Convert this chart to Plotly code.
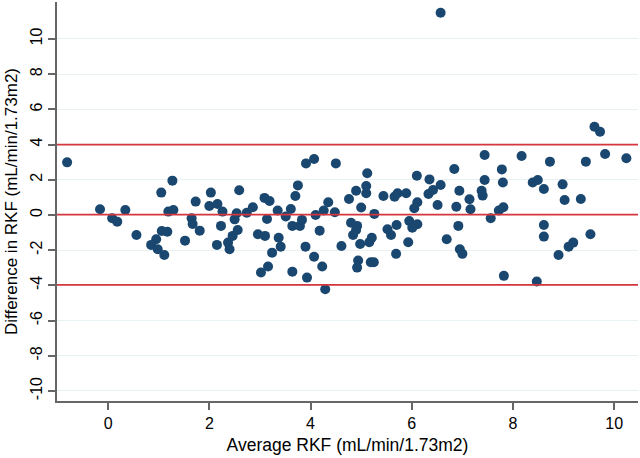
import plotly.graph_objects as go

# Bland-Altman data: average RKF (x) vs difference in RKF (y)
avg_rkf = [
    -0.81, -0.16, 0.08, 0.18, 0.34, 0.56, 0.85, 0.95, 0.98, 1.05,
    1.06, 1.11, 1.17, 1.19, 1.27, 1.29, 1.52, 1.65, 1.67, 1.73,
    1.81, 2.03, 2.00, 2.16, 2.15, 2.23, 2.26, 2.37, 2.40, 2.46,
    2.50, 2.54, 2.56, 2.59, 2.74, 2.86, 2.96, 3.02, 3.09, 3.10,
    3.14, 3.16, 3.19, 3.24, 3.35, 3.37, 3.41, 3.51, 3.61, 3.64,
    3.64, 3.70, 3.75, 3.79, 3.83, 3.90, 3.91, 3.93, 4.07, 4.07,
    4.10, 4.18, 4.23, 4.26, 4.29, 4.35, 4.48, 4.50, 4.61, 4.76,
    4.80, 4.84, 4.90, 4.90, 4.92, 4.94, 4.92, 4.98, 5.00, 5.10,
    5.10, 5.12, 5.16, 5.19, 5.21, 5.25, 5.26, 5.44, 5.52, 5.59,
    5.66, 5.69, 5.70, 5.72, 5.89, 5.93, 5.95, 6.01, 6.05, 6.10,
    6.11, 6.11, 6.33, 6.35, 6.42, 6.51, 6.57, 6.57, 6.69, 6.84,
    6.88, 6.92, 6.94, 6.95, 7.00, 7.14, 7.16, 7.38, 7.40, 7.44,
    7.44, 7.56, 7.72, 7.78, 7.80, 7.81, 7.82, 8.17, 8.39, 8.49,
    8.47, 8.61, 8.61, 8.61, 8.73, 8.90, 8.98, 9.02, 9.10, 9.19,
    9.34, 9.44, 9.53, 9.61, 9.72, 9.82, 10.24,
]
diff_rkf = [
    2.99, 0.32, -0.19, -0.38, 0.28, -1.14, -1.70, -1.38, -1.95, 1.27,
    -0.91, -2.27, -0.95, 0.19, 1.95, 0.28, -1.46, -0.19, -0.51, 0.76,
    -0.89, 1.27, 0.51, 0.62, -1.70, -0.62, 0.19, -1.57, -1.95, -1.19,
    -0.25, 0.10, -0.85, 1.40, 0.13, 0.44, -1.10, -3.27, 0.97, -1.19,
    -0.23, -2.93, 0.79, -2.14, 0.25, -1.29, -1.80, -0.09, 0.34, -3.22,
    -0.62, 1.08, 1.68, -0.62, -0.28, -1.80, 2.93, -3.56, 3.18, -2.37,
    0.00, -0.89, -2.93, 0.25, -4.22, 0.72, 0.15, 2.93, -1.76, 0.91,
    -0.44, -1.14, 1.38, -0.85, -0.62, -2.59, -2.99, -1.65, 0.42, 1.23,
    1.65, 2.37, -1.55, -2.69, -1.29, -2.69, 0.06, 1.08, -0.81, -1.14,
    1.04, -2.21, -0.57, 1.23, 1.23, -1.55, -0.34, -0.72, 0.38, 2.23,
    0.72, -0.53, 1.19, 2.02, 1.42, 0.57, 1.70, 11.49, -1.38, 2.61,
    0.47, -0.62, 1.38, -1.95, -2.21, 0.89, 0.32, 1.38, 1.10, 3.41,
    1.99, -0.19, 0.25, 2.59, 1.84, 0.44, -3.46, 3.35, 1.84, 1.99,
    -3.78, 1.48, -0.57, -1.23, 3.03, -2.27, 1.74, 0.85, -1.80, -1.57,
    0.91, 3.03, -1.10, 5.01, 4.73, 3.46, 3.22,
]

# Mean difference and limits of agreement
limit_values = [4.0, 0.02, -3.97]

x_ticks = [0, 2, 4, 6, 8, 10]
y_ticks = [-10, -8, -6, -4, -2, 0, 2, 4, 6, 8, 10]

FONT = "Liberation Sans, Arial, Helvetica, sans-serif"

fig = go.Figure()

fig.add_trace(go.Scatter(
    x=avg_rkf, y=diff_rkf, mode="markers",
    marker=dict(size=10, color="#1a476f", line=dict(width=0)),
    showlegend=False, hoverinfo="x+y",
))

for v in limit_values:
    fig.add_shape(type="line", xref="paper", x0=0, x1=1, yref="y", y0=v, y1=v,
                  line=dict(color="#d6363e", width=1.8), layer="above")

fig.update_layout(
    width=640, height=458,
    margin=dict(l=57, r=2, t=2, b=57, autoexpand=False),
    paper_bgcolor="white", plot_bgcolor="white",
    font=dict(family=FONT, size=16, color="black"),
    xaxis=dict(
        range=[-1.01, 10.47], tickvals=x_ticks, ticktext=[str(t) for t in x_ticks],
        showgrid=False, zeroline=False,
        showline=True, linecolor="#666666", linewidth=1.5,
        ticks="outside", ticklen=7, tickcolor="#666666", tickwidth=1.5,
        tickfont=dict(size=16, family=FONT),
        title=dict(text="Average RKF (mL/min/1.73m2)", font=dict(size=17.5, family=FONT), standoff=8),
    ),
    yaxis=dict(
        range=[-10.57, 12.1], tickvals=y_ticks, ticktext=[str(t) for t in y_ticks],
        showgrid=True, gridcolor="#e8f1f3", gridwidth=1, zeroline=False,
        showline=True, linecolor="#666666", linewidth=1.5,
        ticks="outside", ticklen=7, tickcolor="#666666", tickwidth=1.5,
        tickangle=-90, tickfont=dict(size=16, family=FONT),
        title=dict(text="Difference in RKF (mL/min/1.73m2)", font=dict(size=17, family=FONT), standoff=6),
    ),
)

fig.write_html(
    "out.html",
    config={"displayModeBar": False},
    post_script="document.body.style.margin='0';document.body.style.overflow='hidden';",
)
